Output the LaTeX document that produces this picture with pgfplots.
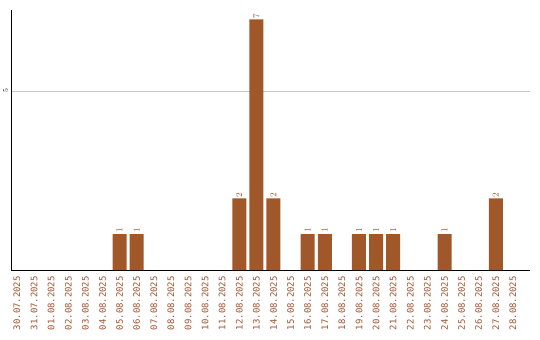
\documentclass[border=0pt]{standalone}
\usepackage{fontspec}
\setmonofont{DejaVu Sans Mono}
\usepackage{pgfplots}
\pgfplotsset{compat=1.18}
\definecolor{barc}{HTML}{A0572A}
\definecolor{labc}{HTML}{A0522D}
\begin{document}
\begin{tikzpicture}
\useasboundingbox (-11bp,-70bp) rectangle (529bp,270bp);
\begin{axis}[
  at={(0,0)}, anchor=south west,
  scale only axis,
  width=519bp, height=260bp,
  xmin=-0.35, xmax=30,
  ymin=0, ymax=7.26,
  axis lines*=left,
  axis line style={black, line width=0.8pt},
  separate axis lines,
  x axis line style={-}, y axis line style={-},
  ybar, bar width=14bp,
  xtick={0,...,29},
  xticklabels={30.07.2025,31.07.2025,01.08.2025,02.08.2025,03.08.2025,04.08.2025,05.08.2025,06.08.2025,07.08.2025,08.08.2025,09.08.2025,10.08.2025,11.08.2025,12.08.2025,13.08.2025,14.08.2025,15.08.2025,16.08.2025,17.08.2025,18.08.2025,19.08.2025,20.08.2025,21.08.2025,22.08.2025,23.08.2025,24.08.2025,25.08.2025,26.08.2025,27.08.2025,28.08.2025},
  xticklabel style={yshift=-6bp, rotate=90, anchor=east, text=labc, font=\ttfamily\fontsize{9}{9}\selectfont, inner sep=0pt},
  ytick={5},
  yticklabel style={xshift=-3bp, rotate=90, anchor=south, font=\ttfamily\fontsize{7.5}{7.5}\selectfont, inner sep=0pt},
  major tick length=0pt,
  ymajorgrids,
  grid style={color=black!22, line width=0.6pt},
  nodes near coords,
  every node near coord/.append style={rotate=90, anchor=west, text=labc, font=\ttfamily\fontsize{9}{9}\selectfont, inner sep=1pt},
]
\addplot[fill=barc, draw=none] coordinates {
 (6,1) (7,1) (13,2) (14,7) (15,2) (17,1) (18,1) (20,1) (21,1) (22,1) (25,1) (28,2)
};
\end{axis}
\end{tikzpicture}
\end{document}
